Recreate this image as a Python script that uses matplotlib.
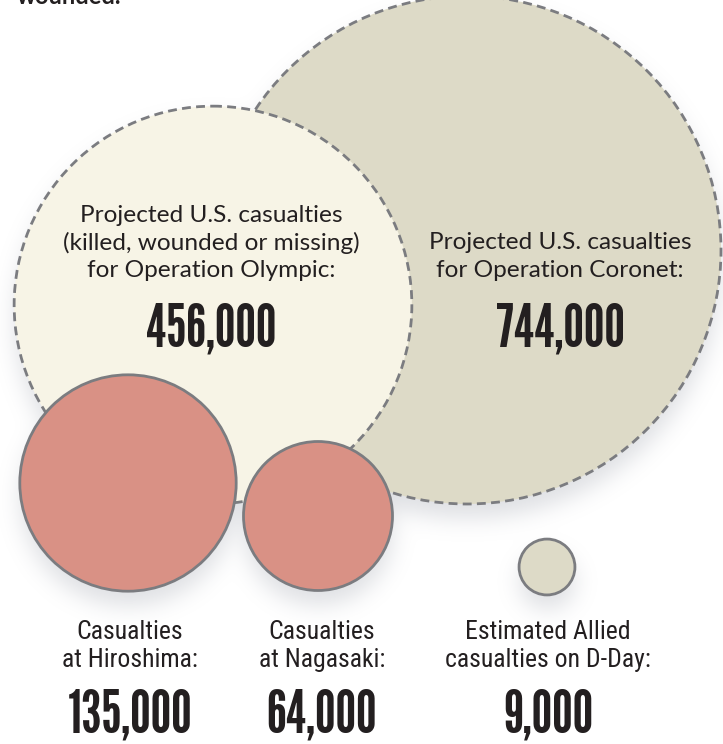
import numpy as np
import matplotlib
matplotlib.use("Agg")
import matplotlib.pyplot as plt
from matplotlib import font_manager as fm
from matplotlib.patches import Circle

# ---------------- data ----------------
names = ["Operation Coronet", "Operation Olympic", "Hiroshima", "Nagasaki", "D-Day"]
values = [744000, 456000, 135000, 64000, 9000]
value_labels = ["744,000", "456,000", "135,000", "64,000", "9,000"]
captions = [
    "Projected U.S. casualties\nfor Operation Coronet:",
    "Projected U.S. casualties\n(killed, wounded or missing)\nfor Operation Olympic:",
    "Casualties\nat Hiroshima:",
    "Casualties\nat Nagasaki:",
    "Estimated Allied\ncasualties on D-Day:",
]
fills = ["#dddac7", "#f7f4e6", "#d99185", "#d99185", "#dddac7"]
dashed = [True, True, False, False, False]

# ---------------- layout ----------------
W, H = 723, 744
centers = [(467, 250), (213, 305), (128, 483), (318, 516), (547, 567)]
k = 254 / np.sqrt(values[0])          # area-proportional radius scale
radii = [k * np.sqrt(v) for v in values]

avail = {f.name for f in fm.fontManager.ttflist}
def pick(*cands):
    for c in cands:
        if c in avail:
            return c
    return "DejaVu Sans"

f_num = pick("League Gothic", "Oswald", "Antonio", "Bebas Neue", "Roboto Condensed", "Liberation Sans Narrow")
f_cond = pick("Roboto Condensed", "Barlow Semi Condensed", "Barlow Condensed", "Open Sans Condensed", "Liberation Sans Narrow")
f_top = pick("Lato", "Open Sans")

fig = plt.figure(figsize=(W / 100, H / 100), dpi=100)
ax = fig.add_axes([0, 0, 1, 1])
ax.set_xlim(0, W)
ax.set_ylim(H, 0)
ax.set_aspect("equal")
ax.axis("off")

# soft drop shadows
yy, xx = np.mgrid[0:H, 0:W]
mask = np.zeros((H, W))
for (cx, cy), r in zip(centers, radii):
    mask = np.maximum(mask, ((xx - cx) ** 2 + (yy - cy - 14) ** 2 <= r ** 2).astype(float))
sig = 11
kx = np.arange(-3 * sig, 3 * sig + 1)
g = np.exp(-kx ** 2 / (2 * sig ** 2)); g /= g.sum()
blur = np.apply_along_axis(lambda m: np.convolve(m, g, mode="same"), 1, mask)
blur = np.apply_along_axis(lambda m: np.convolve(m, g, mode="same"), 0, blur)
shadow = np.zeros((H, W, 4))
shadow[..., 0] = 0.55
shadow[..., 1] = 0.57
shadow[..., 2] = 0.62
shadow[..., 3] = 0.28 * blur
ax.imshow(shadow, extent=(0, W, H, 0), zorder=0, interpolation="bilinear")

edge = "#7b7c80"
for i, ((cx, cy), r) in enumerate(zip(centers, radii)):
    if dashed[i]:
        c = Circle((cx, cy), r, facecolor=fills[i], edgecolor=edge, lw=2.0,
                   linestyle=(0, (3.2, 1.9)), zorder=1 + i)
    else:
        c = Circle((cx, cy), r, facecolor=fills[i], edgecolor=edge, lw=2.0, zorder=1 + i)
    ax.add_patch(c)

ink = "#231f20"
# top captions (inside big circles)
top_pos = [(560, [249, 277], 347), (211, [222, 250, 277], 347)]
for i in range(2):
    x, ys, ny = top_pos[i]
    for line, y in zip(captions[i].split("\n"), ys):
        ax.text(x, y, line, ha="center", va="baseline", fontsize=17.6,
                family=f_top, color=ink, zorder=10)
    ax.text(x, ny, value_labels[i], ha="center", va="baseline", fontsize=42,
            family=f_num, color=ink, zorder=10)

# bottom captions
bot_x = [130, 322, 548]
for j, i in enumerate(range(2, 5)):
    for line, y in zip(captions[i].split("\n"), [639, 667]):
        ax.text(bot_x[j], y, line, ha="center", va="baseline", fontsize=18.5,
                family=f_cond, color=ink, zorder=10)
    ax.text(bot_x[j], 732, value_labels[i], ha="center", va="baseline", fontsize=42,
            family=f_num, color=ink, zorder=10)

# tail of preceding paragraph, cut off at the top edge
ax.text(17, 4, "wounded.", ha="left", va="baseline", fontsize=17, family=f_top,
        weight="bold", color=ink, zorder=10)

fig.savefig("out.png", dpi=100)
